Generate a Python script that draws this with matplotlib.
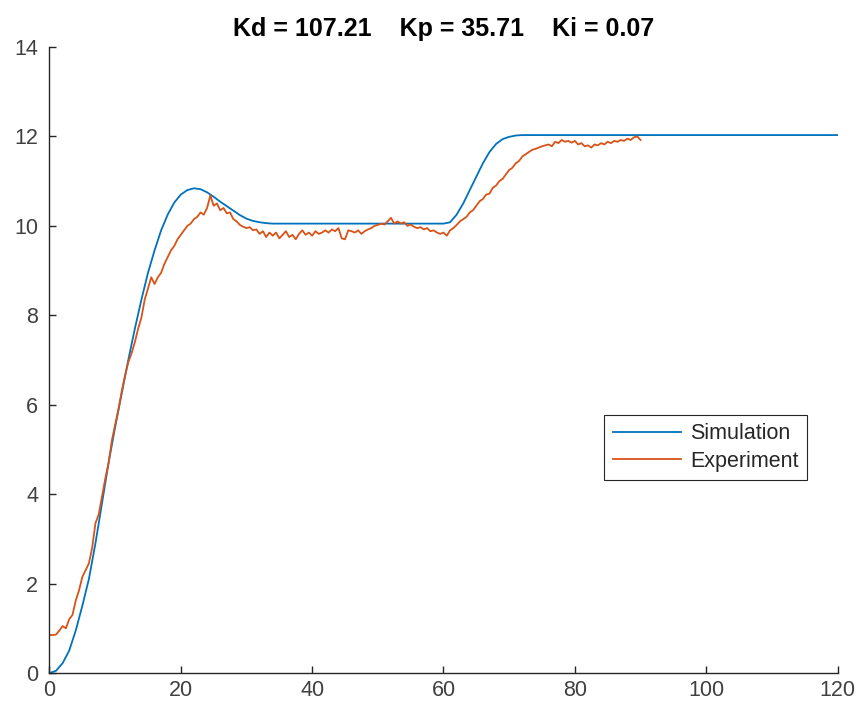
import matplotlib.pyplot as plt
import numpy as np

# simulated step response (setpoint 10 then 12)
sim_t = [0, 1, 2, 3, 4, 5, 6, 7, 8, 9, 10, 11, 12, 13, 14, 15, 16, 17, 18, 19,
         20, 21, 22, 23, 24, 25, 26, 27, 28, 29, 30, 31, 32, 33, 34, 60,
         61, 62, 63, 64, 65, 66, 67, 68, 69, 70, 71, 72, 120]
sim_y = [0, 0.05, 0.22, 0.5, 0.95, 1.5, 2.1, 2.9, 3.8, 4.7, 5.5, 6.25, 7.0, 7.7,
         8.35, 8.95, 9.45, 9.9, 10.25, 10.52, 10.7, 10.8, 10.84, 10.82, 10.75,
         10.65, 10.54, 10.44, 10.34, 10.24, 10.16, 10.11, 10.08, 10.06, 10.05, 10.05,
         10.08, 10.25, 10.5, 10.8, 11.1, 11.4, 11.65, 11.83, 11.94, 11.99, 12.02,
         12.03, 12.03]

# measured response, sampled every 0.5 s
exp_t = np.arange(0, 90.5, 0.5)
exp_y = [0.85, 0.85, 0.86, 0.95, 1.05, 1.0, 1.2, 1.3, 1.62, 1.85, 2.15, 2.3,
         2.45, 2.8, 3.35, 3.55, 3.95, 4.35, 4.7, 5.2, 5.55, 5.9, 6.3, 6.65,
         6.95, 7.15, 7.4, 7.7, 7.95, 8.35, 8.6, 8.85, 8.7, 8.85, 8.95, 9.15,
         9.3, 9.45, 9.55, 9.7, 9.8, 9.9, 10.0, 10.05, 10.15, 10.2, 10.3, 10.25,
         10.4, 10.68, 10.45, 10.5, 10.35, 10.4, 10.28, 10.3, 10.15, 10.1, 10.02, 9.98,
         9.95, 9.97, 9.9, 9.92, 9.82, 9.88, 9.75, 9.85, 9.78, 9.85, 9.72, 9.8,
         9.88, 9.75, 9.8, 9.7, 9.82, 9.9, 9.8, 9.85, 9.78, 9.88, 9.82, 9.85,
         9.9, 9.85, 9.92, 9.88, 9.95, 9.72, 9.7, 9.9, 9.88, 9.85, 9.9, 9.82,
         9.88, 9.92, 9.95, 10.0, 10.02, 10.05, 10.03, 10.1, 10.18, 10.05, 10.1, 10.05,
         10.08, 10.0, 10.03, 9.98, 9.95, 9.97, 9.92, 9.95, 9.88, 9.9, 9.85, 9.82,
         9.85, 9.78, 9.9, 9.95, 10.02, 10.1, 10.15, 10.2, 10.3, 10.35, 10.45, 10.55,
         10.6, 10.7, 10.72, 10.85, 10.9, 11.0, 11.05, 11.15, 11.25, 11.3, 11.4, 11.45,
         11.55, 11.6, 11.65, 11.7, 11.72, 11.75, 11.78, 11.8, 11.82, 11.78, 11.88, 11.85,
         11.92, 11.88, 11.9, 11.86, 11.9, 11.82, 11.85, 11.78, 11.8, 11.75, 11.82, 11.8,
         11.85, 11.82, 11.88, 11.85, 11.9, 11.88, 11.92, 11.9, 11.95, 11.92, 11.98, 12.0,
         11.92]

plt.rcParams['font.family'] = ['Liberation Sans', 'DejaVu Sans']

fig = plt.figure(figsize=(8.62, 7.15), dpi=100)
ax = fig.add_axes([0.0574, 0.0587, 0.9142, 0.8756])

ax.plot(sim_t, sim_y, color='#0072BD', lw=1.3, label='Simulation')
ax.plot(exp_t, exp_y, color='#D95319', lw=1.3, label='Experiment')

ax.set_xlim(0, 120)
ax.set_ylim(0, 14)
ax.set_xticks(np.arange(0, 121, 20))
ax.set_yticks(np.arange(0, 15, 2))
ax.spines['top'].set_visible(False)
ax.spines['right'].set_visible(False)
for s in ['left', 'bottom']:
    ax.spines[s].set_color('#262626')
    ax.spines[s].set_linewidth(1.0)
ax.tick_params(direction='in', length=5, width=1.0, colors='#262626',
               labelsize=15.5, labelcolor='#404040')
ax.tick_params(axis='y', pad=8)
ax.tick_params(axis='x', pad=5)

ax.set_title('Kd = 107.21    Kp = 35.71    Ki = 0.07', fontsize=18,
             fontweight='bold', pad=8)

leg = ax.legend(loc='upper right', bbox_to_anchor=(0.961, 0.412), fontsize=15.5,
                handlelength=3.2, fancybox=False, framealpha=1, borderaxespad=0,
                borderpad=0.38, labelspacing=0.3, handletextpad=0.4)
leg.get_frame().set_edgecolor('#262626')
leg.get_frame().set_linewidth(0.8)
for t in leg.get_texts():
    t.set_color('#262626')

fig.savefig('out.png', dpi=100)
